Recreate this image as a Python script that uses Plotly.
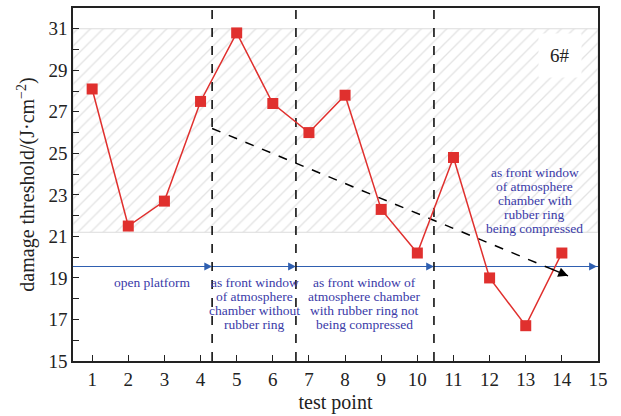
import plotly.graph_objects as go

test_points = list(range(1, 15))
thresholds = [28.1, 21.5, 22.7, 27.5, 30.8, 27.4, 26.0, 27.8, 22.3, 20.2, 24.8, 19.0, 16.7, 20.2]

x_range = [0.47, 15]
y_range = [15, 32]
hatch_band = [21.2, 31.0]
dividers = [4.32, 6.64, 10.46]
baseline_y = 19.55
trend_start = (4.32, 26.2)
trend_end = (14.17, 19.1)

stage_labels = [
    ["open platform"],
    ["as front window", "of atmosphere", "chamber without", "rubber ring"],
    ["as front window of", "atmosphere chamber", "with rubber ring not", "being compressed"],
    ["as front window", "of atmosphere", "chamber with", "rubber ring", "being compressed"],
]
stage_label_x = [2.66, 5.5, 8.55, 13.25]
stage_label_y = [18.76, 18.76, 18.76, 24.07]

FONT = "Liberation Serif"
RED = "#e0302e"
BLUE = "#2f5fb0"
TXT_BLUE = "#3a3aa8"
LINE_PX = 14

fig = go.Figure()

# hatched band
fig.add_trace(go.Scatter(
    x=[x_range[0], x_range[1], x_range[1], x_range[0], x_range[0]],
    y=[hatch_band[0], hatch_band[0], hatch_band[1], hatch_band[1], hatch_band[0]],
    fill="toself", mode="lines", line=dict(color="#dcdcdc", width=1),
    fillcolor="rgba(0,0,0,0)",
    fillpattern=dict(shape="/", fgcolor="#c8c8c8", bgcolor="white", size=9, solidity=0.15),
    hoverinfo="skip", showlegend=False,
))

# blue baseline
fig.add_trace(go.Scatter(
    x=[x_range[0], x_range[1]], y=[baseline_y, baseline_y], mode="lines",
    line=dict(color=BLUE, width=1.2), hoverinfo="skip", showlegend=False,
))

# vertical dashed dividers
for xv in dividers:
    fig.add_trace(go.Scatter(
        x=[xv, xv], y=y_range, mode="lines",
        line=dict(color="black", width=1.5, dash="dash"), hoverinfo="skip", showlegend=False,
    ))

# trend dashed line
fig.add_trace(go.Scatter(
    x=[trend_start[0], trend_end[0]], y=[trend_start[1], trend_end[1]], mode="lines",
    line=dict(color="black", width=1.5, dash="dash"), hoverinfo="skip", showlegend=False,
))

# data
fig.add_trace(go.Scatter(
    x=test_points, y=thresholds, mode="lines+markers",
    line=dict(color=RED, width=1.5),
    marker=dict(symbol="square", size=11, color=RED),
    showlegend=False,
))

annotations = []
# arrowheads on blue line
arrow_x = dividers + [x_range[1] - 0.03]
for xe in arrow_x:
    annotations.append(dict(
        x=xe, y=baseline_y, ax=xe - 0.3, ay=baseline_y, xref="x", yref="y", axref="x", ayref="y",
        showarrow=True, arrowhead=2, arrowsize=1.3, arrowwidth=1.2, arrowcolor=BLUE, text="",
    ))
# trend arrowhead
dx = trend_end[0] - trend_start[0]
dy = trend_end[1] - trend_start[1]
annotations.append(dict(
    x=trend_end[0], y=trend_end[1], ax=trend_end[0] - dx * 0.05, ay=trend_end[1] - dy * 0.05,
    xref="x", yref="y", axref="x", ayref="y",
    showarrow=True, arrowhead=2, arrowsize=1.3, arrowwidth=1.5, arrowcolor="black", text="",
))
for lines, xv, yv in zip(stage_labels, stage_label_x, stage_label_y):
    for i, txt in enumerate(lines):
        annotations.append(dict(
            x=xv, y=yv, xref="x", yref="y", text=txt, showarrow=False,
            xanchor="center", yanchor="middle", yshift=-LINE_PX * i,
            font=dict(family=FONT, size=13.5, color=TXT_BLUE),
        ))
annotations.append(dict(
    x=13.95, y=29.7, xref="x", yref="y", text="6#", showarrow=False,
    font=dict(family=FONT, size=19, color="#222"), bgcolor="white", borderpad=11,
))

fig.update_layout(
    width=621, height=416,
    margin=dict(l=73, r=23, t=6, b=54),
    paper_bgcolor="white", plot_bgcolor="white",
    font=dict(family=FONT, color="#222"),
    annotations=annotations,
    xaxis=dict(
        range=x_range, tickmode="linear", tick0=1, dtick=1,
        ticks="inside", ticklen=6, tickwidth=1.3, tickcolor="#222",
        showline=True, linecolor="#222", linewidth=1.5, mirror=True,
        showgrid=False, zeroline=False,
        tickfont=dict(family=FONT, size=19, color="#222"),
        title=dict(text="test point", font=dict(family=FONT, size=20, color="#222"), standoff=6),
    ),
    yaxis=dict(
        range=y_range, tickmode="linear", tick0=15, dtick=2,
        ticks="inside", ticklen=6, tickwidth=1.3, tickcolor="#222",
        minor=dict(dtick=1, tick0=15, ticks="inside", ticklen=6, tickwidth=1.3, tickcolor="#222"),
        showline=True, linecolor="#222", linewidth=1.5, mirror=True,
        showgrid=False, zeroline=False,
        tickfont=dict(family=FONT, size=19, color="#222"),
        title=dict(text="damage threshold/(J·cm<sup>−2</sup>)", font=dict(family=FONT, size=20, color="#222"), standoff=8),
    ),
)

fig.write_html("out.html")
